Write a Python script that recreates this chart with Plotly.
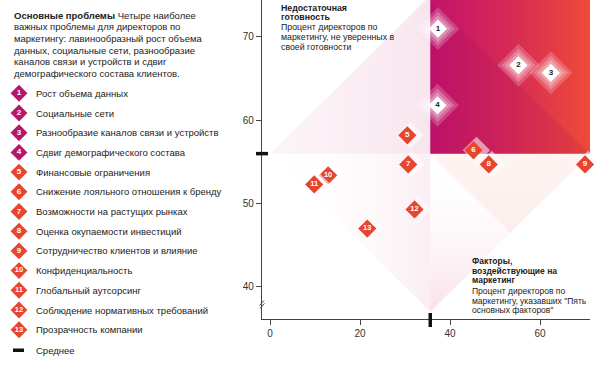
import plotly.graph_objects as go

# ---------------- data ----------------
categories = [
    "Рост объема данных",
    "Социальные сети",
    "Разнообразие каналов связи и устройств",
    "Сдвиг демографического состава",
    "Финансовые ограничения",
    "Снижение лояльного отношения к бренду",
    "Возможности на растущих рынках",
    "Оценка окупаемости инвестиций",
    "Сотрудничество клиентов и влияние",
    "Конфиденциальность",
    "Глобальный аутсорсинг",
    "Соблюдение нормативных требований",
    "Прозрачность компании",
]
numbers = list(range(1, 14))
factors_pct = [37.3, 55.2, 62.4, 37.2, 30.5, 45.2, 30.7, 48.6, 70.0, 12.9, 9.8, 32.1, 21.6]
unready_pct = [71.0, 66.6, 65.7, 61.8, 58.2, 56.4, 54.7, 54.7, 54.7, 53.4, 52.3, 49.3, 47.0]
top_issue_count = 4
mean_factors = 35.6
mean_unready = 56.0
x_ticks = [0, 20, 40, 60]
y_ticks = [40, 50, 60, 70]
mean_label = "Среднее"

# ---------------- geometry / style ----------------
W, H = 600, 367
MR = 10
PW = W - MR            # paper width in px
PLOT_H = 319           # height of main plot area (from top)
X0PX = 262
XR = [-1.8, 71.1]
YR = [36.15, 74.44]
MAGENTA = "#b5176b"
RED = "#e8452f"
INK = "#222222"
FONT = "Liberation Sans"

def px_x(px):
    return px / PW

def px_y(py):
    return (H - py) / H

xs_per_px = (XR[1] - XR[0]) / (PW - X0PX)
ys_per_px = (YR[1] - YR[0]) / PLOT_H

fig = go.Figure()

def poly(xv, yv, color=None, grad=None):
    kw = dict(x=xv + [xv[0]], y=yv + [yv[0]], mode="lines", fill="toself",
              line=dict(width=0), hoverinfo="skip", showlegend=False)
    if grad is not None:
        kw["fillgradient"] = grad
        kw["fillcolor"] = "rgba(0,0,0,0)"
    else:
        kw["fillcolor"] = color
    fig.add_trace(go.Scatter(**kw))

xmax, ymax = XR[1], YR[1]
hw = 160 * xs_per_px
hh = 158 * ys_per_px

# pale diamond faces outside the top-right quadrant
poly([mean_factors - hw, mean_factors, mean_factors], [mean_unready, mean_unready + hh, mean_unready],
     grad=dict(type="horizontal", colorscale=[[0, "rgba(248,230,238,0.4)"], [1, "rgba(242,208,224,0.55)"]]))
poly([mean_factors - hw, mean_factors, mean_factors], [mean_unready, mean_unready, mean_unready - hh],
     grad=dict(type="horizontal", colorscale=[[0, "rgba(255,255,255,0)"], [1, "rgba(242,205,222,0.35)"]]))
poly([mean_factors, mean_factors + hw, mean_factors], [mean_unready, mean_unready, mean_unready - hh],
     grad=dict(type="vertical", colorscale=[[0, "rgba(244,195,212,0.5)"], [1, "rgba(255,255,255,0)"]]))
poly([mean_factors, mean_factors + hw, mean_factors + hw / 2], [mean_unready, mean_unready, mean_unready - hh / 2],
     color="rgba(246,200,185,0.22)")

# top-right quadrant
poly([mean_factors, xmax, xmax, mean_factors], [mean_unready, mean_unready, ymax, ymax],
     grad=dict(type="horizontal", colorscale=[[0, "#c3136c"], [0.5, "#d62a55"], [1, "#ee4b37"]]))
poly([mean_factors, xmax, mean_factors], [ymax, mean_unready, mean_unready],
     color="rgba(150,10,95,0.14)")

# markers
for i, (xv, yv, n) in enumerate(zip(factors_pct, unready_pct, numbers)):
    top = i < top_issue_count
    if top:
        for s, op in [(33, 0.2), (26, 0.22), (20, 0.25)]:
            fig.add_trace(go.Scatter(x=[xv], y=[yv], mode="markers", hoverinfo="skip", showlegend=False,
                                     marker=dict(symbol="diamond", size=s, color="white", opacity=op,
                                                 line=dict(width=0))))
    else:
        fig.add_trace(go.Scatter(x=[xv + 3 * xs_per_px], y=[yv], mode="markers", hoverinfo="skip",
                                 showlegend=False,
                                 marker=dict(symbol="diamond", size=21, color="white", opacity=0.55,
                                             line=dict(width=0))))
    fig.add_trace(go.Scatter(
        x=[xv], y=[yv], mode="markers+text", text=[str(n)], textposition="middle center",
        textfont=dict(family=FONT, size=8 if n < 10 else 7.5, color=INK if top else "white",
                      weight="bold"),
        marker=dict(symbol="diamond", size=14, color="white" if top else RED, line=dict(width=0)),
        hovertext=categories[i], hoverinfo="text", showlegend=False, cliponaxis=False))

# legend markers on helper axes (pixel space of the whole figure)
leg_y = [93.3 + k * 19.7 for k in range(len(numbers))]
fig.add_trace(go.Scatter(
    x=[19] * len(numbers), y=leg_y, xaxis="x2", yaxis="y2", mode="markers+text",
    text=[str(n) for n in numbers], textposition="middle center",
    textfont=dict(family=FONT, size=[8 if n < 10 else 7.5 for n in numbers], color="white", weight="bold"),
    marker=dict(symbol="diamond", size=13,
                color=[MAGENTA if k < top_issue_count else RED for k in range(len(numbers))],
                line=dict(width=0)),
    hoverinfo="skip", showlegend=False, cliponaxis=False))

ann = []
for k, c in enumerate(categories):
    ann.append(dict(x=34, y=leg_y[k], xref="x2", yref="y2", text=c, showarrow=False,
                    xanchor="left", yanchor="middle", font=dict(family=FONT, size=9.5, color=INK)))
mean_leg_y = leg_y[-1] + 20.5
ann.append(dict(x=34, y=mean_leg_y, xref="x2", yref="y2", text=mean_label, showarrow=False,
                xanchor="left", yanchor="middle", font=dict(family=FONT, size=9.5, color=INK)))

intro = ["<b>Основные проблемы</b> Четыре наиболее",
         "важных проблемы для директоров по",
         "маркетингу: лавинообразный рост объема",
         "данных, социальные сети, разнообразие",
         "каналов связи и устройств и сдвиг",
         "демографического состава клиентов."]
for k, t in enumerate(intro):
    ann.append(dict(x=12, y=15 + k * 11.7, xref="x2", yref="y2", text=t, showarrow=False,
                    xanchor="left", yanchor="middle", font=dict(family=FONT, size=9.5, color=INK)))

tl = ["<b>Недостаточная</b>", "<b>готовность</b>", "Процент директоров по",
      "маркетингу, не уверенных в", "своей готовности"]
for k, t in enumerate(tl):
    ann.append(dict(x=px_x(279), y=px_y(7.5 + k * 9.8), xref="paper", yref="paper", text=t,
                    showarrow=False, xanchor="left", yanchor="middle",
                    font=dict(family=FONT, size=8.8, color=INK)))

br = ["<b>Факторы,</b>", "<b>воздействующие на</b>", "<b>маркетинг</b>", "Процент директоров по",
      "маркетингу, указавших \"Пять", "основных факторов\""]
br_y = [261, 270.5, 280, 291, 300.5, 310]
for t, yy in zip(br, br_y):
    ann.append(dict(x=px_x(470), y=px_y(yy), xref="paper", yref="paper", text=t,
                    showarrow=False, xanchor="left", yanchor="middle",
                    font=dict(family=FONT, size=8.5, color=INK)))

shapes = [
    dict(type="line", xref="paper", yref="y", x0=px_x(256), x1=px_x(268), y0=mean_unready, y1=mean_unready,
         line=dict(color="#111", width=3.5)),
    dict(type="line", xref="x", yref="paper", x0=mean_factors, x1=mean_factors, y0=px_y(313), y1=px_y(327),
         line=dict(color="#111", width=3.5)),
    dict(type="line", xref="x2", yref="y2", x0=13, x1=24, y0=mean_leg_y, y1=mean_leg_y,
         line=dict(color="#111", width=3.5)),
    dict(type="line", xref="paper", yref="paper", x0=px_x(259.5), x1=px_x(264), y0=px_y(305.5), y1=px_y(300.5),
         line=dict(color="#444", width=1)),
    dict(type="line", xref="paper", yref="paper", x0=px_x(260), x1=px_x(264.5), y0=px_y(308.5), y1=px_y(303.5),
         line=dict(color="#444", width=1)),
]

axis_common = dict(showline=True, linecolor="#444", linewidth=1.3, ticks="outside", ticklen=5,
                   tickcolor="#444", tickwidth=1, showgrid=False, zeroline=False,
                   tickfont=dict(family=FONT, size=10, color="#333"), layer="above traces")

fig.update_layout(
    width=W, height=H, margin=dict(l=0, r=MR, t=0, b=0),
    paper_bgcolor="white", plot_bgcolor="rgba(0,0,0,0)",
    xaxis=dict(domain=[X0PX / PW, 1], range=XR, tickvals=x_ticks, anchor="y", **axis_common),
    yaxis=dict(domain=[(H - PLOT_H) / H, 1], range=YR, tickvals=y_ticks, anchor="x", **axis_common),
    xaxis2=dict(domain=[0, 0.42], range=[0, 0.42 * PW], visible=False, anchor="y2"),
    yaxis2=dict(domain=[0, 1], range=[H, 0], visible=False, anchor="x2"),
    annotations=ann, shapes=shapes, showlegend=False,
)

fig.write_html("out.html", config={"displayModeBar": False},
               post_script="document.body.style.margin='0';")
